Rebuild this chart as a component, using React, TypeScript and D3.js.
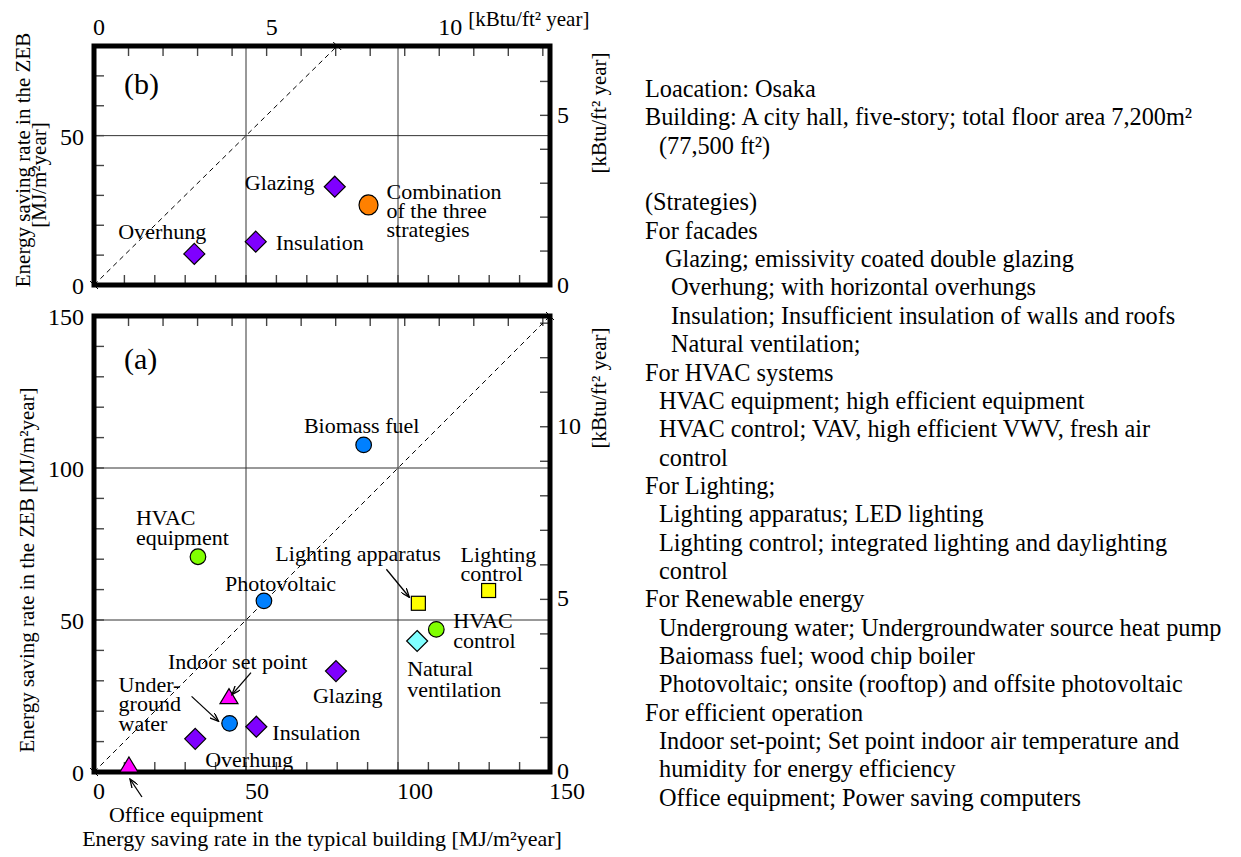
import React from 'react';
import * as d3 from 'd3';

const W = 1241;
const H = 857;
const FONT = '"Liberation Serif", "Times New Roman", serif';
const KBTU = 11.357; // 1 kBtu/ft2 year = 11.357 MJ/m2 year

// panel (a) : individual strategies
const aNames = ['Biomass fuel', 'HVAC equipment', 'Photovoltaic', 'Lighting apparatus', 'Lighting control',
  'HVAC control', 'Natural ventilation', 'Glazing', 'Indoor set point', 'Underground water',
  'Insulation', 'Overhung', 'Office equipment'];
const aTypical = [88.7, 34.2, 55.9, 106.7, 129.8, 112.6, 106.3, 79.6, 44.4, 44.6, 53.4, 33.3, 11.5];
const aZEB = [107.6, 70.8, 56.3, 55.5, 59.7, 46.9, 43.1, 33.2, 24.8, 16.0, 14.9, 10.9, 2.3];
const aGroup = ['renewable', 'hvac', 'renewable', 'lighting', 'lighting', 'hvac', 'ventilation',
  'facade', 'operation', 'renewable', 'facade', 'facade', 'operation'];

// panel (b) : facade strategies and their combination
const bNames = ['Glazing', 'Combination of the three strategies', 'Insulation', 'Overhung'];
const bTypical = [79.2, 90.3, 53.2, 33.0];
const bZEB = [32.9, 26.8, 14.5, 10.4];
const bGroup = ['facade', 'combined', 'facade', 'facade'];

// axis ticks
const mjTicks = d3.range(10, 150, 10);
const mjLabels = [0, 50, 100, 150];
const kbtuTicks = d3.range(1, 14);
const kbtuTopLabels = [0, 5, 10];

const notes = [
  'Loacation: Osaka',
  'Building: A city hall, five-story; total floor area 7,200m²',
  '(77,500 ft²)',
  '',
  '(Strategies)',
  'For facades',
  'Glazing; emissivity coated double glazing',
  'Overhung; with horizontal overhungs',
  'Insulation; Insufficient insulation of walls and roofs',
  'Natural ventilation;',
  'For HVAC systems',
  'HVAC equipment; high efficient equipment',
  'HVAC control; VAV, high efficient VWV, fresh air',
  'control',
  'For Lighting;',
  'Lighting apparatus; LED lighting',
  'Lighting control; integrated lighting and daylighting',
  'control',
  'For Renewable energy',
  'Undergroung water; Undergroundwater source heat pump',
  'Baiomass fuel; wood chip boiler',
  'Photovoltaic; onsite (rooftop) and offsite photovoltaic',
  'For efficient operation',
  'Indoor set-point; Set point indoor air temperature and',
  'humidity for energy efficiency',
  'Office equipment; Power saving computers',
];
const noteIndent = [0, 0, 14, 0, 0, 0, 20, 26, 26, 26, 0, 14, 14, 14, 0, 14, 14, 14, 0, 14, 14, 14, 0, 14, 14, 14];

const groupStyle: Record<string, { shape: string; fill: string }> = {
  facade: { shape: 'diamond', fill: '#7f00ff' },
  ventilation: { shape: 'diamond', fill: '#80ffff' },
  hvac: { shape: 'circle', fill: '#80ff00' },
  lighting: { shape: 'square', fill: '#ffff00' },
  renewable: { shape: 'circle', fill: '#0080ff' },
  operation: { shape: 'triangle', fill: '#ff00ff' },
  combined: { shape: 'bigcircle', fill: '#ff8000' },
};

// label placement relative to each marker (px)
const aLabels = [
  { lines: ['Biomass fuel'], dx: -2, dy: [-12], anchor: 'middle' },
  { lines: ['HVAC', 'equipment'], dx: -62, dy: [-32, -12], anchor: 'start' },
  { lines: ['Photovoltaic'], dx: -39, dy: [-10], anchor: 'start' },
  { lines: ['Lighting apparatus'], dx: -143, dy: [-42], anchor: 'start' },
  { lines: ['Lighting', 'control'], dx: -28, dy: [-29, -10], anchor: 'start' },
  { lines: ['HVAC', 'control'], dx: 17, dy: [-1, 19], anchor: 'start' },
  { lines: ['Natural', 'ventilation'], dx: -10, dy: [35, 56], anchor: 'start' },
  { lines: ['Glazing'], dx: -23, dy: [32], anchor: 'start' },
  { lines: ['Indoor set point'], dx: -61, dy: [-28], anchor: 'start' },
  { lines: ['Under-', 'ground', 'water'], dx: -111, dy: [-31, -12, 8], anchor: 'start' },
  { lines: ['Insulation'], dx: 16, dy: [13], anchor: 'start' },
  { lines: ['Overhung'], dx: 10, dy: [28], anchor: 'start' },
  { lines: ['Office equipment'], dx: -20, dy: [57], anchor: 'start' },
];
const bLabels = [
  { lines: ['Glazing'], dx: -90, dy: [3], anchor: 'start' },
  { lines: ['Combination', 'of the three', 'strategies'], dx: 18, dy: [-6, 13, 32], anchor: 'start' },
  { lines: ['Insulation'], dx: 20, dy: [8], anchor: 'start' },
  { lines: ['Overhung'], dx: -76, dy: [-15], anchor: 'start' },
];
const aArrows = [
  { i: 3, from: [-32, -34], to: [-9, -6] },
  { i: 8, from: [22, -24], to: [3, -2] },
  { i: 9, from: [-38, -27], to: [-11, -2] },
  { i: 12, from: [13, 32], to: [1, 14] },
];

const x = d3.scaleLinear().domain([0, 150]).range([94, 550]);
const yB = d3.scaleLinear().domain([0, 80]).range([285, 46]);
const yA = d3.scaleLinear().domain([0, 150]).range([772, 316]);

function Marker({ cx, cy, group }: { cx: number; cy: number; group: string }) {
  const st = groupStyle[group];
  const common = { fill: st.fill, stroke: '#000', strokeWidth: 1.2 };
  if (st.shape === 'circle') return <circle cx={cx} cy={cy} r={7.8} {...common} />;
  if (st.shape === 'bigcircle') return <ellipse cx={cx} cy={cy} rx={9.5} ry={10} {...common} />;
  if (st.shape === 'square') return <rect x={cx - 7} y={cy - 7} width={14} height={14} {...common} />;
  if (st.shape === 'diamond') {
    const s = 10.5;
    return <path d={`M${cx},${cy - s}L${cx + s},${cy}L${cx},${cy + s}L${cx - s},${cy}Z`} {...common} />;
  }
  return <path d={`M${cx},${cy - 8}L${cx + 9},${cy + 7}L${cx - 9},${cy + 7}Z`} {...common} />;
}

function Panel({ y, xs, ys, groups, labels, maxV, tag }: any) {
  const [x0, x1] = x.range();
  const [y0, y1] = y.range();
  const kbtuMax = y.domain()[1] / KBTU;
  const diag = d3.line<number>().x(v => x(v)).y(v => y(v))([0, maxV]) as string;
  const gridX = [50, 100];
  const gridY = [50, 100].filter(v => v < y.domain()[1]);
  const tickStroke = '#444';
  return (
    <g>
      {gridX.map(v => <line key={'gx' + v} x1={x(v)} x2={x(v)} y1={y0} y2={y1} stroke="#333" strokeWidth={1} />)}
      {gridY.map(v => <line key={'gy' + v} x1={x0} x2={x1} y1={y(v)} y2={y(v)} stroke="#333" strokeWidth={1} />)}
      {mjTicks.map(v => <line key={'bt' + v} x1={x(v)} x2={x(v)} y1={y0} y2={y0 - 10} stroke={tickStroke} strokeWidth={1.4} />)}
      {kbtuTicks.map(v => <line key={'tt' + v} x1={x(v * KBTU)} x2={x(v * KBTU)} y1={y1} y2={y1 + 10} stroke={tickStroke} strokeWidth={1.4} />)}
      {mjTicks.filter(v => v < y.domain()[1]).map(v => <line key={'lt' + v} x1={x0} x2={x0 + 10} y1={y(v)} y2={y(v)} stroke={tickStroke} strokeWidth={1.4} />)}
      {kbtuTicks.filter(v => v < kbtuMax).map(v => <line key={'rt' + v} x1={x1} x2={x1 - 10} y1={y(v * KBTU)} y2={y(v * KBTU)} stroke={tickStroke} strokeWidth={1.4} />)}
      <path d={diag} fill="none" stroke="#000" strokeWidth={1} strokeDasharray="5,4" />
      {[0, maxV].map(v => (
        <g key={'dm' + v}>
          <line x1={x(v) - 4} y1={y(v) - 4} x2={x(v) + 4} y2={y(v) + 4} stroke="#000" strokeWidth={1} />
        </g>
      ))}
      <rect x={x0} y={y1} width={x1 - x0} height={y0 - y1} fill="none" stroke="#000" strokeWidth={5} />
      <text x={124} y={y1 + (tag === '(b)' ? 48 : 53)} fontSize={30}>{tag}</text>
      {xs.map((v: number, i: number) => <Marker key={'m' + i} cx={x(v)} cy={y(ys[i])} group={groups[i]} />)}
      {labels.map((lb: any, i: number) => (
        <text key={'l' + i} textAnchor={lb.anchor} fontSize={22}>
          {lb.lines.map((t: string, j: number) => (
            <tspan key={j} x={x(xs[i]) + lb.dx} y={y(ys[i]) + lb.dy[j]}>{t}</tspan>
          ))}
        </text>
      ))}
    </g>
  );
}

export default function App() {
  const arrowHead = 'M0,0 L9,3.5 L0,7';
  return (
    <svg width={W} height={H} style={{ position: 'absolute', left: 0, top: 0, background: '#fff', fontFamily: FONT }}
      fontFamily={FONT} fill="#000">
      <defs>
        <marker id="ah" viewBox="0 0 10 7" refX={9} refY={3.5} markerWidth={10} markerHeight={7}
          markerUnits="userSpaceOnUse" orient="auto">
          <path d={arrowHead} fill="none" stroke="#000" strokeWidth={1.3} />
        </marker>
      </defs>
      <rect width={W} height={H} fill="#fff" />

      <Panel y={yB} xs={bTypical} ys={bZEB} groups={bGroup} labels={bLabels} maxV={80} tag="(b)" />
      <Panel y={yA} xs={aTypical} ys={aZEB} groups={aGroup} labels={aLabels} maxV={150} tag="(a)" />

      {aArrows.map((a, k) => {
        const cx = x(aTypical[a.i]);
        const cy = yA(aZEB[a.i]);
        return <line key={'ar' + k} x1={cx + a.from[0]} y1={cy + a.from[1]} x2={cx + a.to[0]} y2={cy + a.to[1]}
          stroke="#000" strokeWidth={1.3} markerEnd="url(#ah)" />;
      })}

      {/* top axis (kBtu) of panel (b) */}
      {kbtuTopLabels.map(v => (
        <text key={'tl' + v} x={x(v * KBTU) - 1} y={35} fontSize={24}>{v}</text>
      ))}
      <text x={x(10 * KBTU) + 29} y={26} fontSize={21}>[kBtu/ft² year]</text>

      {/* left axis labels */}
      {[0, 50].map(v => <text key={'bl' + v} x={84} y={yB(v) + 9} fontSize={24} textAnchor="end">{v}</text>)}
      {mjLabels.map(v => <text key={'al' + v} x={84} y={yA(v) + 9} fontSize={24} textAnchor="end">{v}</text>)}
      {/* right axis labels */}
      {[0, 5].map(v => <text key={'br' + v} x={557} y={yB(v * KBTU) + 8} fontSize={24}>{v}</text>)}
      {[0, 5, 10].map(v => <text key={'ar' + v} x={557} y={yA(v * KBTU) + 7} fontSize={24}>{v}</text>)}
      {/* bottom axis labels */}
      {mjLabels.map(v => <text key={'xl' + v} x={x(v) - 1} y={799} fontSize={24}>{v}</text>)}

      {/* axis titles */}
      <text x={322} y={846} fontSize={22} textAnchor="middle">Energy saving rate in the typical building [MJ/m²year]</text>
      <text transform="translate(30,160) rotate(-90)" fontSize={21} textAnchor="middle">Energy saving rate in the ZEB</text>
      <text transform="translate(46,175) rotate(-90)" fontSize={21} textAnchor="middle">[MJ/m²year]</text>
      <text transform="translate(34,570) rotate(-90)" fontSize={21} textAnchor="middle">Energy saving rate in the ZEB [MJ/m²year]</text>
      <text transform="translate(606,113) rotate(-90)" fontSize={21} textAnchor="middle">[kBtu/ft² year]</text>
      <text transform="translate(606,388) rotate(-90)" fontSize={21} textAnchor="middle">[kBtu/ft² year]</text>

      {/* description */}
      <g fontSize={24.3}>
        {notes.map((t, i) => (
          <text key={'n' + i} x={645 + noteIndent[i]} y={97 + i * 28.35}>{t}</text>
        ))}
      </g>
    </svg>
  );
}
